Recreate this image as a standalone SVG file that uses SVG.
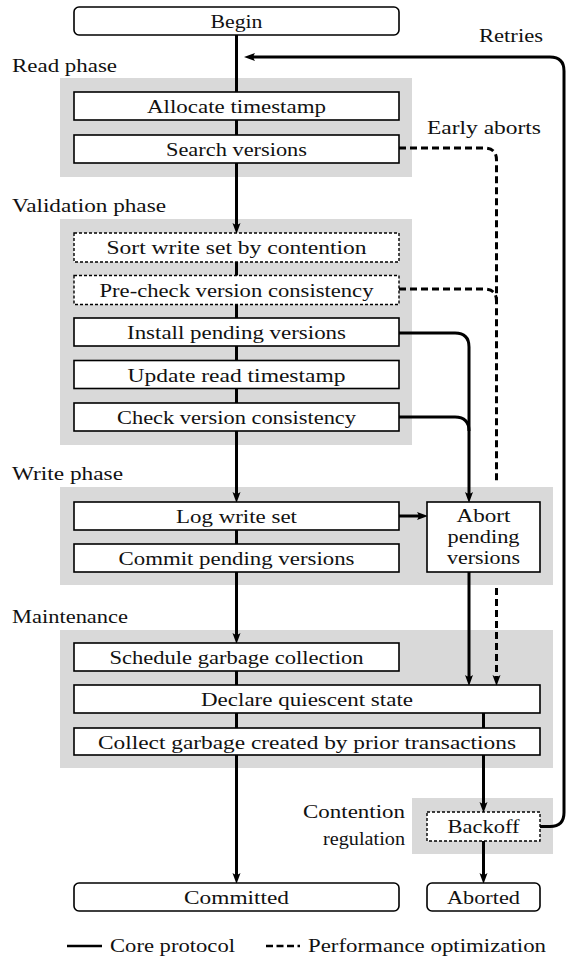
<svg xmlns="http://www.w3.org/2000/svg" width="568" height="957" viewBox="0 0 568 957">
<style>
.c{text-anchor:middle}
.panel{fill:#d9d9d9;stroke:none}
.box{fill:#fff;stroke:#000;stroke-width:1.6}
.dbox{fill:#fff;stroke:#000;stroke-width:1.4;stroke-dasharray:3 2}
.ln{fill:none;stroke:#000;stroke-width:3}
.dl{fill:none;stroke:#000;stroke-width:3;stroke-dasharray:7 4}
</style>
<defs>
<marker id="ah" viewBox="0 0 11 9" refX="4" refY="4.5" markerWidth="11" markerHeight="9" markerUnits="userSpaceOnUse" orient="auto">
<path d="M0,0.5 L11,4.5 L0,8.5 Q3,4.5 0,0.5z" fill="#000"/>
</marker>
</defs>
<g id="panels">
<rect class="panel" x="60" y="78" width="352" height="99"/>
<rect class="panel" x="60" y="219" width="352" height="226"/>
<rect class="panel" x="60" y="487" width="493" height="98"/>
<rect class="panel" x="60" y="630" width="493" height="138"/>
<rect class="panel" x="412" y="798" width="141" height="56"/>
</g>
<g id="labels">
<text font-family="Liberation Serif" font-size="18" fill="#111" x="12" y="72" textLength="105" lengthAdjust="spacingAndGlyphs">Read phase</text>
<text font-family="Liberation Serif" font-size="18" fill="#111" x="12" y="212" textLength="154" lengthAdjust="spacingAndGlyphs">Validation phase</text>
<text font-family="Liberation Serif" font-size="18" fill="#111" x="12" y="480" textLength="111" lengthAdjust="spacingAndGlyphs">Write phase</text>
<text font-family="Liberation Serif" font-size="18" fill="#111" x="12" y="623" textLength="116" lengthAdjust="spacingAndGlyphs">Maintenance</text>
<text font-family="Liberation Serif" font-size="18" fill="#111" x="303" y="818" textLength="102" lengthAdjust="spacingAndGlyphs">Contention</text>
<text font-family="Liberation Serif" font-size="18" fill="#111" x="323" y="845" textLength="82" lengthAdjust="spacingAndGlyphs">regulation</text>
<text font-family="Liberation Serif" font-size="18" fill="#111" x="479" y="42" textLength="64" lengthAdjust="spacingAndGlyphs">Retries</text>
<text font-family="Liberation Serif" font-size="18" fill="#111" x="427" y="134" textLength="114" lengthAdjust="spacingAndGlyphs">Early aborts</text>
</g>
<g id="connectors">
<path class="dl" d="M399,148 H484 Q496.5,148 496.5,160 V482"/>
<path class="dl" d="M399,289 H484 Q496.5,289 496.5,301"/>
<path class="dl" d="M496.5,588 V679" marker-end="url(#ah)"/>
<line class="ln" x1="236.5" y1="35" x2="236.5" y2="92"/>
<line class="ln" x1="236.5" y1="120" x2="236.5" y2="135"/>
<line class="ln" x1="236.5" y1="163" x2="236.5" y2="227" marker-end="url(#ah)"/>
<line class="ln" x1="236.5" y1="262" x2="236.5" y2="403"/>
<line class="ln" x1="236.5" y1="431" x2="236.5" y2="496" marker-end="url(#ah)"/>
<line class="ln" x1="236.5" y1="530" x2="236.5" y2="544"/>
<line class="ln" x1="236.5" y1="572" x2="236.5" y2="637" marker-end="url(#ah)"/>
<line class="ln" x1="236.5" y1="671" x2="236.5" y2="728"/>
<line class="ln" x1="236.5" y1="755" x2="236.5" y2="877" marker-end="url(#ah)"/>
<line class="ln" x1="399" y1="516" x2="421" y2="516" marker-end="url(#ah)"/>
<path class="ln" d="M399,333 H455 Q469,333 469,347 V496" marker-end="url(#ah)"/>
<path class="ln" d="M399,417 H455 Q469,417 469,431"/>
<line class="ln" x1="469" y1="572" x2="469" y2="679" marker-end="url(#ah)"/>
<line class="ln" x1="483.5" y1="713" x2="483.5" y2="728"/>
<line class="ln" x1="483.5" y1="755" x2="483.5" y2="806" marker-end="url(#ah)"/>
<line class="ln" x1="483.5" y1="841" x2="483.5" y2="877" marker-end="url(#ah)"/>
<path class="ln" d="M540,826.5 H550 Q564,826.5 564,812.5 V71 Q564,57 550,57 H251" marker-end="url(#ah)"/>
</g>
<g id="begin"><rect class="box" x="74" y="7" width="325" height="28" rx="5"/><text font-family="Liberation Serif" font-size="18" fill="#111" class="c" x="236.5" y="28" textLength="52" lengthAdjust="spacingAndGlyphs">Begin</text></g>
<g id="allocate"><rect class="box" x="74" y="92" width="325" height="28"/><text font-family="Liberation Serif" font-size="18" fill="#111" class="c" x="236.5" y="113" textLength="179" lengthAdjust="spacingAndGlyphs">Allocate timestamp</text></g>
<g id="search"><rect class="box" x="74" y="135" width="325" height="28"/><text font-family="Liberation Serif" font-size="18" fill="#111" class="c" x="236.5" y="156" textLength="141" lengthAdjust="spacingAndGlyphs">Search versions</text></g>
<g id="sort"><rect class="dbox" x="74" y="233" width="325" height="29"/><text font-family="Liberation Serif" font-size="18" fill="#111" class="c" x="236.5" y="254" textLength="260" lengthAdjust="spacingAndGlyphs">Sort write set by contention</text></g>
<g id="precheck"><rect class="dbox" x="74" y="275.5" width="325" height="29"/><text font-family="Liberation Serif" font-size="18" fill="#111" class="c" x="236.5" y="296.5" textLength="274" lengthAdjust="spacingAndGlyphs">Pre-check version consistency</text></g>
<g id="install"><rect class="box" x="74" y="318" width="325" height="28"/><text font-family="Liberation Serif" font-size="18" fill="#111" class="c" x="236.5" y="339" textLength="219" lengthAdjust="spacingAndGlyphs">Install pending versions</text></g>
<g id="update"><rect class="box" x="74" y="360.5" width="325" height="28"/><text font-family="Liberation Serif" font-size="18" fill="#111" class="c" x="236.5" y="381.5" textLength="218" lengthAdjust="spacingAndGlyphs">Update read timestamp</text></g>
<g id="check"><rect class="box" x="74" y="403" width="325" height="28"/><text font-family="Liberation Serif" font-size="18" fill="#111" class="c" x="236.5" y="424" textLength="239" lengthAdjust="spacingAndGlyphs">Check version consistency</text></g>
<g id="log"><rect class="box" x="74" y="502" width="325" height="28"/><text font-family="Liberation Serif" font-size="18" fill="#111" class="c" x="236.5" y="523" textLength="121" lengthAdjust="spacingAndGlyphs">Log write set</text></g>
<g id="commit"><rect class="box" x="74" y="544" width="325" height="28"/><text font-family="Liberation Serif" font-size="18" fill="#111" class="c" x="236.5" y="565" textLength="236" lengthAdjust="spacingAndGlyphs">Commit pending versions</text></g>
<g id="abort"><rect class="box" x="427" y="502" width="113" height="70"/><text font-family="Liberation Serif" font-size="18" fill="#111" class="c" x="483.5" y="522" textLength="54" lengthAdjust="spacingAndGlyphs">Abort</text><text font-family="Liberation Serif" font-size="18" fill="#111" class="c" x="483.5" y="543" textLength="72" lengthAdjust="spacingAndGlyphs">pending</text><text font-family="Liberation Serif" font-size="18" fill="#111" class="c" x="483.5" y="564" textLength="73" lengthAdjust="spacingAndGlyphs">versions</text></g>
<g id="schedule"><rect class="box" x="74" y="643" width="325" height="28"/><text font-family="Liberation Serif" font-size="18" fill="#111" class="c" x="236.5" y="664" textLength="254" lengthAdjust="spacingAndGlyphs">Schedule garbage collection</text></g>
<g id="declare"><rect class="box" x="74" y="685" width="466" height="28"/><text font-family="Liberation Serif" font-size="18" fill="#111" class="c" x="307" y="706" textLength="212" lengthAdjust="spacingAndGlyphs">Declare quiescent state</text></g>
<g id="collect"><rect class="box" x="74" y="728" width="466" height="27"/><text font-family="Liberation Serif" font-size="18" fill="#111" class="c" x="307" y="748.5" textLength="418" lengthAdjust="spacingAndGlyphs">Collect garbage created by prior transactions</text></g>
<g id="backoff"><rect class="dbox" x="427" y="812" width="113" height="29"/><text font-family="Liberation Serif" font-size="18" fill="#111" class="c" x="483.5" y="833" textLength="72" lengthAdjust="spacingAndGlyphs">Backoff</text></g>
<g id="committed"><rect class="box" x="74" y="883" width="325" height="28" rx="5"/><text font-family="Liberation Serif" font-size="18" fill="#111" class="c" x="236.5" y="904" textLength="105" lengthAdjust="spacingAndGlyphs">Committed</text></g>
<g id="aborted"><rect class="box" x="427" y="883" width="113" height="28" rx="5"/><text font-family="Liberation Serif" font-size="18" fill="#111" class="c" x="483.5" y="904" textLength="73" lengthAdjust="spacingAndGlyphs">Aborted</text></g>
<g id="legend">
<line x1="67" y1="946" x2="102" y2="946" stroke="#000" stroke-width="2.5"/>
<text font-family="Liberation Serif" font-size="18" fill="#111" x="110" y="952" textLength="125" lengthAdjust="spacingAndGlyphs">Core protocol</text>
<line x1="266" y1="946" x2="300" y2="946" stroke="#000" stroke-width="2.5" stroke-dasharray="7 3.5"/>
<text font-family="Liberation Serif" font-size="18" fill="#111" x="308" y="952" textLength="238" lengthAdjust="spacingAndGlyphs">Performance optimization</text>
</g>
</svg>
